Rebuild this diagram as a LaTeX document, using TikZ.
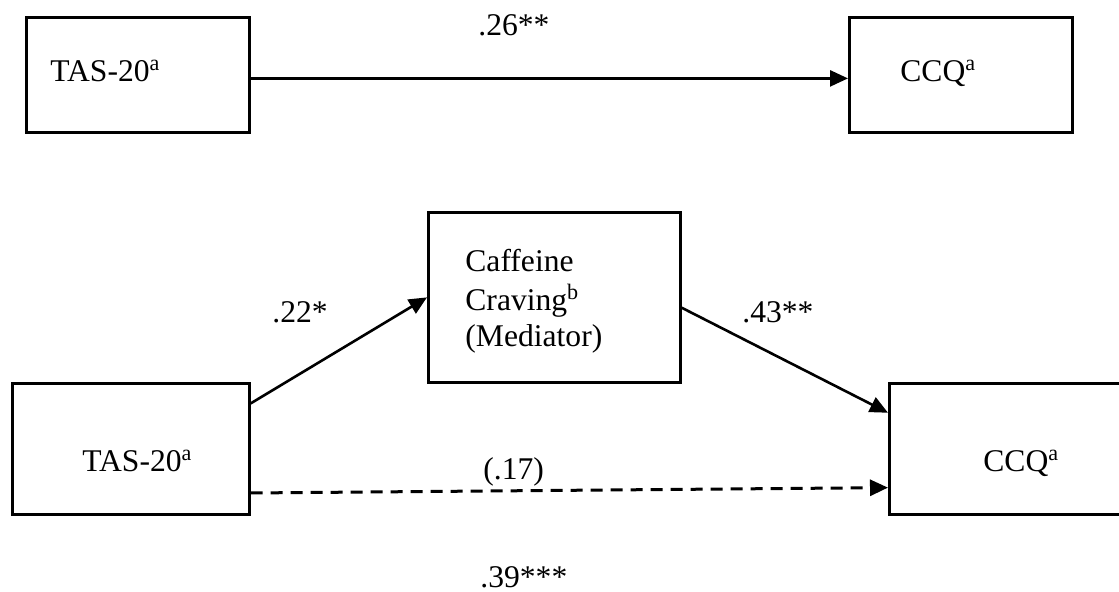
\documentclass[tikz,border=0pt]{standalone}
\usepackage{fontspec}
\setmainfont{Liberation Serif}
\usetikzlibrary{arrows.meta,calc}
\tikzset{
  box/.style={draw, line width=1.35pt, rectangle, anchor=north west, inner sep=0pt},
  txt/.style={anchor=base west, inner sep=0pt, font=\fontsize{15.8}{19}\selectfont},
  conn/.style={line width=1.3pt, -{Triangle[length=9pt,width=8pt]}},
  dconn/.style={conn, line width=1.5pt, dash pattern=on 6pt off 4pt}
}
\begin{document}
\begin{tikzpicture}[x=0.5pt,y=-0.5pt]
\useasboundingbox (0,0) rectangle (1119,591);
\clip (0,0) rectangle (1119,591);
% top model
\node[box, minimum width=111.5pt, minimum height=57.5pt] (tl) at (25,16) {};
\node[box, minimum width=111.5pt, minimum height=57.5pt] (tr) at (848,16) {};
\node[txt] (tltxt) at (50,81) {TAS-20\textsuperscript{a}};
\node[txt] (trtxt) at (900,81) {CCQ\textsuperscript{a}};
\draw[conn] ($(tl.north east)!0.53!(tl.south east)$) -- ($(tr.north west)!0.53!(tr.south west)$);
\node[txt] (l26) at (478,35) {.26**};
% mediation model
\node[box, minimum width=126pt, minimum height=85pt] (med) at (427,211) {};
\node[txt] (m1) at (465,271) {Caffeine};
\node[txt] (m2) at (465,310) {Craving\textsuperscript{b}};
\node[txt] (m3) at (465,346) {(Mediator)};
\node[box, minimum width=118.5pt, minimum height=65.5pt] (bl) at (11,382) {};
\node[box, minimum width=120pt, minimum height=65.5pt] (br) at (888,382) {};
\node[txt] (bltxt) at (82,471) {TAS-20\textsuperscript{a}};
\node[txt] (brtxt) at (983,471) {CCQ\textsuperscript{a}};
\draw[conn] ($(bl.north east)!0.16!(bl.south east)$) -- (med.west);
\draw[conn] ($(med.north east)!0.56!(med.south east)$) -- ($(br.north west)!0.23!(br.south west)$);
\draw[dconn] ($(bl.north east)!0.83!(bl.south east)$) -- ($(br.north west)!0.79!(br.south west)$);
\node[txt] (l22) at (272,322) {.22*};
\node[txt] (l43) at (742,322) {.43**};
\node[txt] (l17) at (483,479) {(.17)};
\node[txt] (l39) at (480,587) {.39***};
\end{tikzpicture}
\end{document}
